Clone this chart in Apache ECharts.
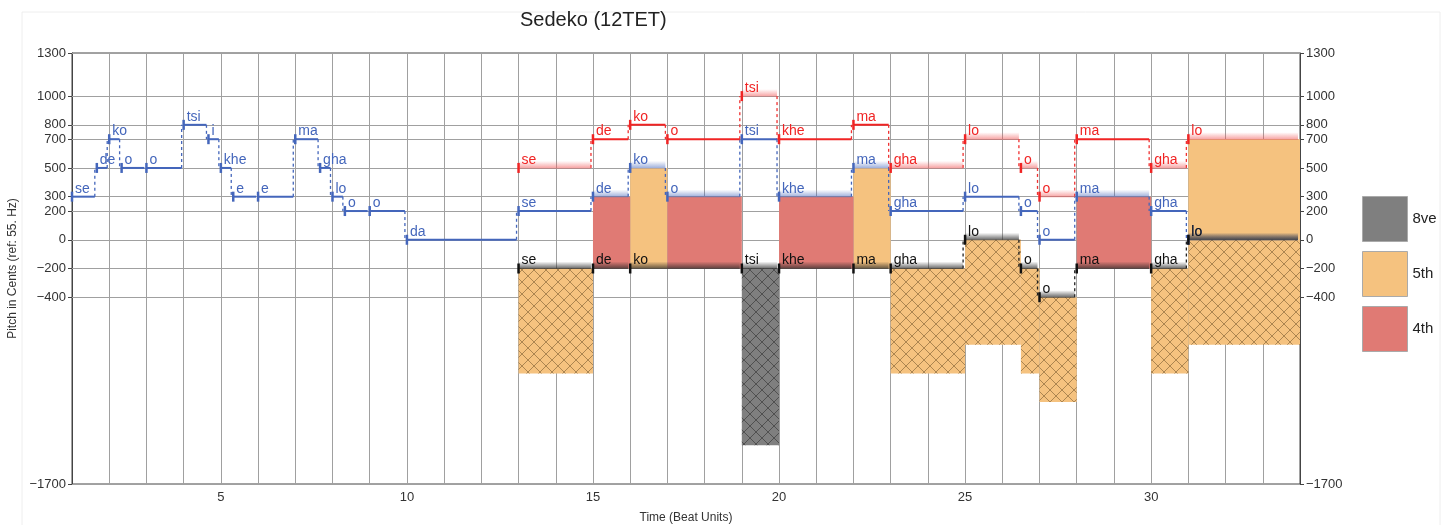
<!DOCTYPE html>
<html>
<head>
<meta charset="utf-8">
<script src="https://cdn.jsdelivr.net/npm/echarts@6/dist/echarts.min.js"></script>
<style>
html, body { margin: 0; padding: 0; background: #fff; }
#chart { width: 1452px; height: 525px; }
</style>
</head>
<body>
<div id="chart"></div>
<script>
// tick values of the pitch axis (cents)
var yTicks = [-1700, -400, -200, 0, 200, 300, 500, 700, 800, 1000, 1300];

// notes: [start beat, end beat, pitch in cents, syllable, faded]
var blueNotes = [
    [1, 1.667, 300, 'se', 0], [1.667, 2, 500, 'de', 0], [2, 2.333, 700, 'ko', 0],
    [2.333, 3, 500, 'o', 0], [3, 4, 500, 'o', 0], [4, 4.667, 800, 'tsi', 0],
    [4.667, 5, 700, 'i', 0], [5, 5.333, 500, 'khe', 0], [5.333, 6, 300, 'e', 0],
    [6, 7, 300, 'e', 0], [7, 7.667, 700, 'ma', 0], [7.667, 8, 500, 'gha', 0],
    [8, 8.333, 300, 'lo', 0], [8.333, 9, 200, 'o', 0], [9, 10, 200, 'o', 0],
    [10, 13, 0, 'da', 0], [13, 15, 200, 'se', 0], [15, 16, 300, 'de', 1],
    [16, 17, 500, 'ko', 1], [17, 19, 300, 'o', 1], [19, 20, 700, 'tsi', 0],
    [20, 22, 300, 'khe', 1], [22, 23, 500, 'ma', 1], [23, 25, 200, 'gha', 0],
    [25, 26.5, 300, 'lo', 0], [26.5, 27, 200, 'o', 0], [27, 28, 0, 'o', 0],
    [28, 30, 300, 'ma', 1], [30, 31, 200, 'gha', 0], [31, 34, 0, 'lo', 1]
];
var redNotes = [
    [13, 15, 500, 'se', 1], [15, 16, 700, 'de', 0], [16, 17, 800, 'ko', 0],
    [17, 19, 700, 'o', 0], [19, 20, 1000, 'tsi', 1], [20, 22, 700, 'khe', 0],
    [22, 23, 800, 'ma', 0], [23, 25, 500, 'gha', 1], [25, 26.5, 700, 'lo', 1],
    [26.5, 27, 500, 'o', 1], [27, 28, 300, 'o', 1], [28, 30, 700, 'ma', 0],
    [30, 31, 500, 'gha', 1], [31, 34, 700, 'lo', 1]
];
var blackNotes = [
    [13, 15, -200, 'se', 1], [15, 16, -200, 'de', 1], [16, 19, -200, 'ko', 1],
    [19, 20, -200, 'tsi', 1], [20, 22, -200, 'khe', 1], [22, 23, -200, 'ma', 1],
    [23, 25, -200, 'gha', 1], [25, 26.5, 0, 'lo', 1], [26.5, 27, -200, 'o', 1],
    [27, 28, -400, 'o', 1], [28, 30, -200, 'ma', 1], [30, 31, -200, 'gha', 1],
    [31, 34, 0, 'lo', 1]
];

// interval fills: [start beat, end beat, low cents, high cents]
var fill4th = [[15, 16, -200, 300], [17, 19, -200, 300], [20, 22, -200, 300], [28, 30, -200, 300]];
var fill5th = [[16, 17, -200, 500], [22, 23, -200, 500], [31, 34, 0, 700]];
var hatch5th = [[13, 15, -930, -200], [23, 25, -930, -200], [25, 26.5, -730, 0],
    [26.5, 27, -930, -200], [27, 28, -1130, -400], [30, 31, -930, -200], [31, 34, -730, 0]];
var hatch8ve = [[19, 20, -1430, -200]];

var FONT = 'Liberation Sans';

function makeHatch(lineColor) {
    var c = document.createElement('canvas');
    c.width = 12; c.height = 12;
    var ctx = c.getContext('2d');
    ctx.strokeStyle = lineColor;
    ctx.lineWidth = 0.9;
    ctx.beginPath();
    ctx.moveTo(-1, -1); ctx.lineTo(13, 13);
    ctx.moveTo(13, -1); ctx.lineTo(-1, 13);
    ctx.stroke();
    return c;
}
var hatchOrange = makeHatch('rgba(110,80,40,0.6)');
var hatchGray = makeHatch('rgba(40,40,40,0.6)');

function connectors(notes) {
    var out = [];
    for (var i = 0; i < notes.length - 1; i++) {
        if (Math.abs(notes[i][1] - notes[i + 1][0]) < 0.01 && notes[i][2] !== notes[i + 1][2]) {
            out.push([notes[i][1], notes[i][2], notes[i + 1][2]]);
        }
    }
    return out;
}

function connSeries(notes, color, z) {
    return {
        type: 'custom', silent: true, z: z,
        data: connectors(notes),
        renderItem: function (params, api) {
            var a = api.coord([api.value(0), api.value(1)]);
            var b = api.coord([api.value(0), api.value(2)]);
            return {
                type: 'line',
                shape: { x1: a[0] - 2, y1: a[1], x2: b[0] - 2, y2: b[1] },
                style: { stroke: color, lineWidth: 1.3, lineDash: [3, 3] }
            };
        }
    };
}

function noteSeries(notes, color, bandColor, bandFade, z) {
    return {
        type: 'custom', silent: true, z: z,
        data: notes.map(function (n) { return [n[0], n[1], n[2]]; }),
        renderItem: function (params, api) {
            var n = notes[params.dataIndex];
            var s = api.coord([n[0], n[2]]);
            var e = api.coord([n[1], n[2]]);
            var w = e[0] - s[0] - 2;
            var kids = [];
            if (n[4]) {
                kids.push({
                    type: 'rect',
                    shape: { x: s[0], y: s[1] - 7, width: w, height: 7.5 },
                    style: {
                        fill: new echarts.graphic.LinearGradient(0, 0, 0, 1, [
                            { offset: 0, color: bandFade },
                            { offset: 1, color: bandColor }
                        ])
                    }
                });
            } else {
                kids.push({
                    type: 'line',
                    shape: { x1: s[0], y1: s[1], x2: s[0] + w, y2: s[1] },
                    style: { stroke: color, lineWidth: 2 }
                });
            }
            kids.push({
                type: 'line',
                shape: { x1: s[0], y1: s[1] - 5, x2: s[0], y2: s[1] + 5 },
                style: { stroke: color, lineWidth: 2.5 }
            });
            kids.push({
                type: 'text', x: s[0] + 3, y: s[1] - 1,
                style: { text: n[3], fill: color, fontSize: 14, fontFamily: FONT, verticalAlign: 'bottom' }
            });
            return { type: 'group', children: kids };
        }
    };
}

function fillSeries(name, color, plain, hatched, hatchImg, z) {
    var data = plain.map(function (f) { return [f[0], f[1], f[2], f[3], 0]; })
        .concat(hatched.map(function (f) { return [f[0], f[1], f[2], f[3], 1]; }));
    return {
        type: 'custom', name: name, silent: true, z: z,
        itemStyle: { color: color },
        data: data,
        renderItem: function (params, api) {
            var d = data[params.dataIndex];
            var tl = api.coord([d[0], d[3]]);
            var br = api.coord([d[1], d[2]]);
            var shape = { x: tl[0], y: tl[1], width: br[0] - tl[0], height: br[1] - tl[1] };
            var kids = [{ type: 'rect', shape: shape, style: { fill: color } }];
            if (d[4]) {
                kids.push({ type: 'rect', shape: shape, style: { fill: { image: hatchImg, repeat: 'repeat' } } });
            }
            return { type: 'group', children: kids };
        }
    };
}

var yAxisBase = {
    type: 'value', min: -1700, max: 1300, interval: 100,
    axisLine: { show: true, lineStyle: { color: '#444' } },
    axisTick: { show: true, length: 4, customValues: yTicks, lineStyle: { color: '#444' } },
    axisLabel: {
        customValues: yTicks, color: '#333', fontSize: 13, fontFamily: FONT, margin: 6,
        formatter: function (v) { return yTicks.indexOf(v) >= 0 ? String(v).replace('-', '\u2212') : ''; }
    },
    splitLine: { show: false }
};

var myChart = echarts.init(document.getElementById('chart'));
myChart.setOption({
    animation: false,
    textStyle: { fontFamily: FONT },
    title: {
        text: 'Sedeko (12TET)', left: 520, top: 10, padding: 0,
        textStyle: { fontSize: 20, fontWeight: 'normal', color: '#222', fontFamily: FONT }
    },
    graphic: [{
        type: 'rect', silent: true,
        shape: { x: 22, y: 12, width: 1418, height: 530 },
        style: { fill: 'none', stroke: '#eee' }
    }],
    legend: {
        orient: 'vertical', left: 1362, top: 196, padding: 0,
        itemWidth: 45, itemHeight: 45, itemGap: 9,
        textStyle: { fontSize: 15, color: '#222', fontFamily: FONT },
        data: [
            { name: '8ve', icon: 'rect', itemStyle: { color: '#7f7f7f', borderColor: '#aaa', borderWidth: 1 } },
            { name: '5th', icon: 'rect', itemStyle: { color: '#f5c27f', borderColor: '#aaa', borderWidth: 1 } },
            { name: '4th', icon: 'rect', itemStyle: { color: '#e07a74', borderColor: '#aaa', borderWidth: 1 } }
        ],
        selectedMode: false
    },
    grid: {
        left: 72, right: 152, top: 53, bottom: 41, show: true,
        borderColor: '#444', borderWidth: 1, outerBoundsMode: 'none', containLabel: false
    },
    xAxis: {
        type: 'value', min: 1, max: 34, interval: 1,
        name: 'Time (Beat Units)', nameLocation: 'middle', nameGap: 28,
        nameTextStyle: { fontSize: 12, color: '#333', fontFamily: FONT },
        axisLine: { lineStyle: { color: '#444' } },
        axisTick: { show: false },
        axisLabel: {
            color: '#333', fontSize: 13, fontFamily: FONT, margin: 7,
            formatter: function (v) { return v % 5 === 0 ? String(v) : ''; }
        },
        splitLine: { show: true, lineStyle: { color: '#a0a0a0' } }
    },
    yAxis: [
        Object.assign({}, yAxisBase, {
            position: 'left',
            name: 'Pitch in Cents (ref: 55. Hz)', nameLocation: 'middle', nameGap: 52, nameRotate: 90,
            nameTextStyle: { fontSize: 12, color: '#333', fontFamily: FONT }
        }),
        Object.assign({}, yAxisBase, { position: 'right' })
    ],
    series: [
        {
            type: 'line', silent: true, data: [], z: 1,
            markLine: {
                silent: true, z: 1, symbol: ['none', 'none'], label: { show: false },
                lineStyle: { color: '#a0a0a0', type: 'solid', width: 1 },
                data: yTicks.map(function (v) { return { yAxis: v }; })
            }
        },
        fillSeries('8ve', '#7f7f7f', [], hatch8ve, hatchGray, 6),
        fillSeries('5th', '#f5c27f', fill5th, hatch5th, hatchOrange, 6),
        fillSeries('4th', '#e07a74', fill4th, [], hatchOrange, 6),
        connSeries(blueNotes, '#4466bb', 7),
        connSeries(redNotes, '#f03030', 7),
        connSeries(blackNotes, '#222', 7),
        noteSeries(blueNotes, '#4466bb', 'rgba(68,102,187,0.55)', 'rgba(68,102,187,0)', 8),
        noteSeries(redNotes, '#f02424', 'rgba(240,80,80,0.55)', 'rgba(240,80,80,0)', 8),
        noteSeries(blackNotes, '#111', 'rgba(40,40,40,0.75)', 'rgba(40,40,40,0)', 9)
    ]
});
</script>
</body>
</html>
